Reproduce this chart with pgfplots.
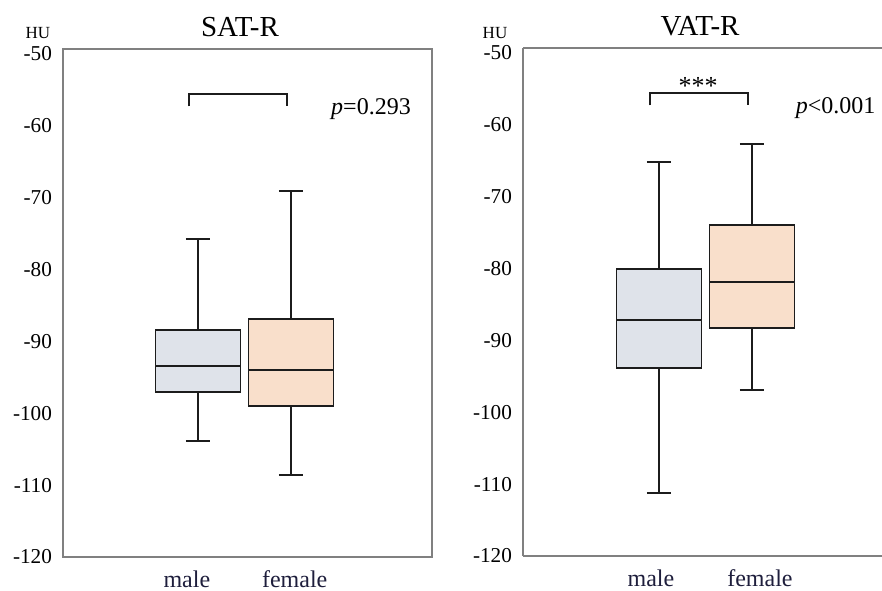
\documentclass[border=0pt]{standalone}
\usepackage{fontspec}
\setmainfont{Liberation Serif}
\usepackage{pgfplots}
\pgfplotsset{compat=1.18}
\usepgfplotslibrary{statistics}
\definecolor{malefill}{HTML}{DFE3EA}
\definecolor{femfill}{HTML}{F9DFCB}
\definecolor{axgray}{HTML}{808080}
\definecolor{labnavy}{HTML}{1E1E3C}
\definecolor{edge}{HTML}{1C1C1C}
\begin{document}
\begin{tikzpicture}
\useasboundingbox (0pt,0pt) rectangle (441pt,-295pt);
\pgfplotsset{
 panel/.style={scale only axis, height=254pt, ymin=-120, ymax=-49.3,
  ytick={-120,-110,-100,-90,-80,-70,-60,-50},
  yticklabels={-120,-110,-100,-90,-80,-70,-60,-50},
  xticklabels={male,female},
  major tick length=0pt,
  yticklabel style={font=\fontsize{10.6}{12}\selectfont, xshift=-2pt},
  xticklabel style={font=\fontsize{12}{14}\selectfont, text=labnavy, yshift=-3.2pt},
  axis line style={axgray, line width=0.7pt},
  clip=false, boxplot/draw direction=y},
 mbox/.style={draw=edge, line width=0.95pt, solid,
  boxplot/every box/.style={line width=0.95pt},
  boxplot/every median/.style={line width=0.95pt},
  boxplot/every whisker/.style={line width=0.95pt}},
}
% ---------------- SAT-R ----------------
\begin{axis}[panel, width=184.5pt, xmin=-0.452, xmax=3.516,
  xtick={0.88,2.04},
  at={(31.5pt,-278.5pt)}, anchor=south west]
\addplot[mbox, fill=malefill, boxplot prepared={draw position=1,
  lower whisker=-103.8, lower quartile=-97.0, median=-93.4,
  upper quartile=-88.4, upper whisker=-75.7, box extend=0.914, whisker extend=0.26}]
  coordinates {};
\addplot[mbox, fill=femfill, boxplot prepared={draw position=2,
  lower whisker=-108.6, lower quartile=-99.0, median=-94.0,
  upper quartile=-86.9, upper whisker=-69.0, box extend=0.914, whisker extend=0.26}]
  coordinates {};
\draw[edge, line width=0.9pt] (axis cs:0.903,-57.3) -- (axis cs:0.903,-55.6) -- (axis cs:1.957,-55.6) -- (axis cs:1.957,-57.3);
\node at (axis cs:2.86,-57.7) {\fontsize{12}{14}\selectfont\textit{p}=0.293};
\end{axis}
% ---------------- VAT-R ----------------
\begin{axis}[panel, width=179.5pt, xmin=-0.462, xmax=3.398,
  xtick={0.914,2.086},
  at={(261.5pt,-278pt)}, anchor=south west, axis lines=left, axis line style={-, axgray, line width=0.7pt}]
\addplot[mbox, fill=malefill, boxplot prepared={draw position=1,
  lower whisker=-111.2, lower quartile=-93.8, median=-87.2,
  upper quartile=-80.0, upper whisker=-65.2, box extend=0.914, whisker extend=0.26}]
  coordinates {};
\addplot[mbox, fill=femfill, boxplot prepared={draw position=2,
  lower whisker=-96.9, lower quartile=-88.3, median=-81.9,
  upper quartile=-73.9, upper whisker=-62.7, box extend=0.914, whisker extend=0.26}]
  coordinates {};
\draw[axgray, line width=0.7pt] (rel axis cs:0,1) -- (rel axis cs:1,1);
\draw[edge, line width=0.9pt] (axis cs:0.903,-57.3) -- (axis cs:0.903,-55.6) -- (axis cs:1.954,-55.6) -- (axis cs:1.954,-57.3);
\node at (axis cs:1.42,-54.6) {\fontsize{13}{15}\selectfont ***};
\node at (axis cs:2.90,-57.7) {\fontsize{12}{14}\selectfont\textit{p}<0.001};
\end{axis}
% titles and units
\node at (120pt,-13.3pt) {\fontsize{14.5}{16}\selectfont SAT-R};
\node at (350pt,-13.3pt) {\fontsize{14.5}{16}\selectfont VAT-R};
\node at (19pt,-16.5pt) {\fontsize{8.5}{10}\selectfont HU};
\node at (247.5pt,-16.5pt) {\fontsize{8.5}{10}\selectfont HU};
\end{tikzpicture}
\end{document}
